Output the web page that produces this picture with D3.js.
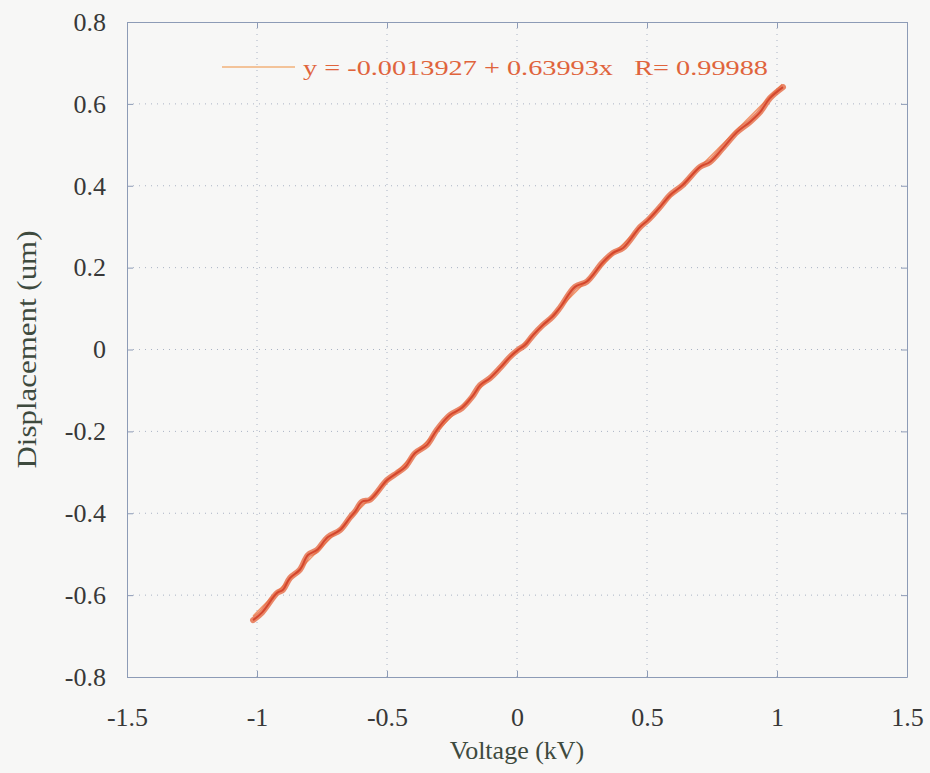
<!DOCTYPE html>
<html>
<head>
<meta charset="utf-8">
<script src="https://cdn.jsdelivr.net/npm/d3@7"></script>
<style>
  body { margin: 0; background: #f7f7f6; }
  svg { display: block; }
</style>
</head>
<body>
<div id="chart"></div>
<script>
var voltage = [-1.015, -0.98, -0.923, -0.9, -0.873, -0.835, -0.804, -0.77, -0.727, -0.68,
    -0.642, -0.623, -0.596, -0.565, -0.5, -0.462, -0.43, -0.392, -0.346, -0.308,
    -0.258, -0.212, -0.173, -0.142, -0.104, -0.065, -0.027, 0.004, 0.031, 0.062,
    0.1, 0.135, 0.165, 0.223, 0.269, 0.327, 0.369, 0.408, 0.473, 0.504,
    0.55, 0.588, 0.638, 0.704, 0.742, 0.792, 0.846, 0.896, 0.935, 0.973, 1.023];
var displacement = [-0.661, -0.642, -0.595, -0.587, -0.558, -0.538, -0.502, -0.49, -0.458, -0.441,
    -0.41, -0.396, -0.372, -0.367, -0.319, -0.302, -0.287, -0.253, -0.233, -0.196,
    -0.16, -0.143, -0.116, -0.087, -0.07, -0.045, -0.018, -0.001, 0.011, 0.035,
    0.06, 0.079, 0.102, 0.153, 0.166, 0.211, 0.236, 0.248, 0.299, 0.316,
    0.348, 0.377, 0.402, 0.446, 0.458, 0.492, 0.531, 0.556, 0.58, 0.614, 0.641];

// linear fit end points
var fitVoltage = [-1.015, 1.02];
var fitDisplacement = [-0.651, 0.648];

var xTicks = [-1.5, -1, -0.5, 0, 0.5, 1, 1.5];
var yTicks = [-0.8, -0.6, -0.4, -0.2, 0, 0.2, 0.4, 0.6, 0.8];
var legendLabel = 'y = -0.0013927 + 0.63993x   R= 0.99988';

var width = 930, height = 773;
var plotLeft = 127, plotRight = 907, plotTop = 22, plotBottom = 677;

var svg = d3.select('#chart')
    .append('svg')
    .attr('width', width)
    .attr('height', height);

var x_scale = d3.scaleLinear().domain([-1.5, 1.5]).range([plotLeft, plotRight]);
var y_scale = d3.scaleLinear().domain([-0.8, 0.8]).range([plotBottom, plotTop]);

var axisColor = '#8d9bb6';
var labelFont = 'Liberation Serif, Times New Roman, serif';
var tickFormat = function(d) { return String(d); };

// grid
svg.append('g')
    .selectAll('line')
    .data(xTicks.slice(1, -1))
    .enter().append('line')
    .attr('x1', function(d) { return x_scale(d); })
    .attr('x2', function(d) { return x_scale(d); })
    .attr('y1', plotTop).attr('y2', plotBottom)
    .attr('stroke', '#aab3c4')
    .attr('stroke-width', 1)
    .attr('stroke-dasharray', '1,5');

svg.append('g')
    .selectAll('line')
    .data(yTicks.slice(1, -1))
    .enter().append('line')
    .attr('y1', function(d) { return y_scale(d); })
    .attr('y2', function(d) { return y_scale(d); })
    .attr('x1', plotLeft).attr('x2', plotRight)
    .attr('stroke', '#aab3c4')
    .attr('stroke-width', 1)
    .attr('stroke-dasharray', '1,5');

// axes with inward ticks on all four sides
function styleAxis(g) {
    g.attr('font-family', labelFont).attr('font-size', 26);
    g.selectAll('path').attr('stroke', axisColor);
    g.selectAll('line').attr('stroke', axisColor);
    g.selectAll('text').attr('fill', '#383838');
}

svg.append('g')
    .attr('transform', 'translate(0,' + plotBottom + ')')
    .call(d3.axisBottom(x_scale).tickValues(xTicks).tickSize(-6).tickSizeOuter(0)
        .tickPadding(31).tickFormat(tickFormat))
    .call(styleAxis);

svg.append('g')
    .attr('transform', 'translate(0,' + plotTop + ')')
    .call(d3.axisTop(x_scale).tickValues(xTicks).tickSize(-6).tickSizeOuter(0)
        .tickFormat(''))
    .call(styleAxis);

svg.append('g')
    .attr('transform', 'translate(' + plotLeft + ',0)')
    .call(d3.axisLeft(y_scale).tickValues(yTicks).tickSize(-6).tickSizeOuter(0)
        .tickPadding(21).tickFormat(tickFormat))
    .call(styleAxis);

svg.append('g')
    .attr('transform', 'translate(' + plotRight + ',0)')
    .call(d3.axisRight(y_scale).tickValues(yTicks).tickSize(-6).tickSizeOuter(0)
        .tickFormat(''))
    .call(styleAxis);

// fit line
var line = d3.line()
    .x(function(d) { return x_scale(d[0]); })
    .y(function(d) { return y_scale(d[1]); });

svg.append('path')
    .datum(d3.zip(fitVoltage, fitDisplacement))
    .attr('d', line)
    .attr('fill', 'none')
    .attr('stroke', '#f0956a')
    .attr('stroke-width', 1.5);

// measured curve: soft wide stroke with a darker core
var curve = d3.line()
    .x(function(d) { return x_scale(d[0]); })
    .y(function(d) { return y_scale(d[1]); })
    .curve(d3.curveCatmullRom);

var points = d3.zip(voltage, displacement);

svg.append('path')
    .datum(points)
    .attr('d', curve)
    .attr('fill', 'none')
    .attr('stroke', '#e56a45')
    .attr('stroke-width', 6)
    .attr('stroke-linejoin', 'round')
    .attr('stroke-linecap', 'round')
    .attr('opacity', 0.8);

svg.append('path')
    .datum(points)
    .attr('d', curve)
    .attr('fill', 'none')
    .attr('stroke', '#d03c24')
    .attr('stroke-width', 2)
    .attr('stroke-linejoin', 'round')
    .attr('opacity', 0.85);

// legend
svg.append('line')
    .attr('x1', 222).attr('x2', 295)
    .attr('y1', 67).attr('y2', 67)
    .attr('stroke', '#f2b27a')
    .attr('stroke-width', 1.5);

svg.append('text')
    .attr('x', 303)
    .attr('y', 75)
    .attr('fill', '#e0643c')
    .attr('font-family', labelFont)
    .attr('font-size', 21)
    .style('white-space', 'pre')
    .attr('textLength', 465)
    .attr('lengthAdjust', 'spacingAndGlyphs')
    .text(legendLabel);

// axis titles
svg.append('text')
    .attr('x', (plotLeft + plotRight) / 2)
    .attr('y', 759)
    .attr('text-anchor', 'middle')
    .attr('fill', '#3e4a3e')
    .attr('font-family', labelFont)
    .attr('font-size', 26)
    .text('Voltage (kV)');

svg.append('text')
    .attr('transform', 'translate(36,' + ((plotTop + plotBottom) / 2) + ') rotate(-90)')
    .attr('text-anchor', 'middle')
    .attr('fill', '#3e4a3e')
    .attr('font-family', labelFont)
    .attr('font-size', 27)
    .attr('textLength', 238)
    .attr('lengthAdjust', 'spacingAndGlyphs')
    .text('Displacement (um)');
</script>
</body>
</html>
